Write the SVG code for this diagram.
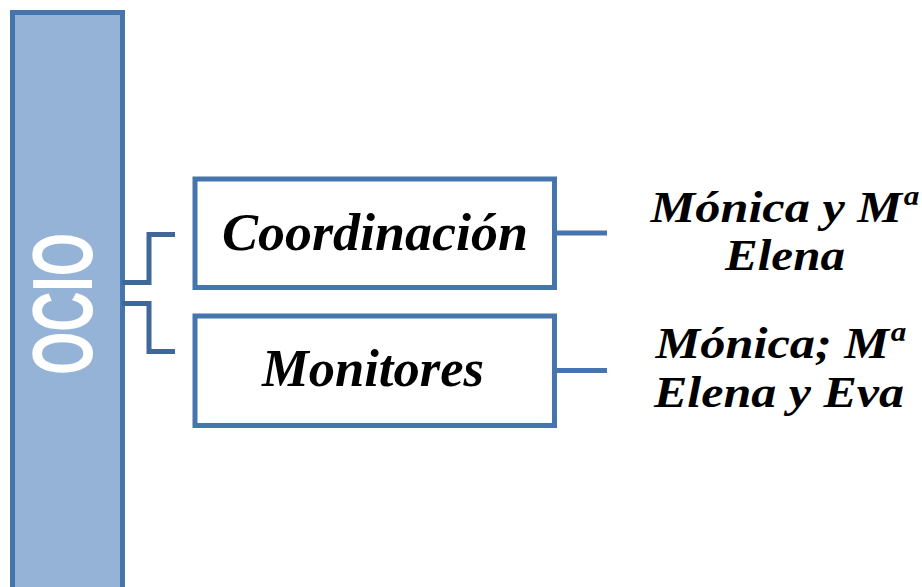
<svg xmlns="http://www.w3.org/2000/svg" width="922" height="587" viewBox="0 0 922 587">
<style>
.box{fill:#ffffff;stroke:#4674ad;stroke-width:5}
.bar{fill:#95b3d7;stroke:#4674ad;stroke-width:5}
.conn{fill:none;stroke:#3f6797;stroke-width:5}
.conn2{fill:none;stroke:#4674ad;stroke-width:5}
.lbl{font-family:"Liberation Serif",serif;font-weight:bold;font-style:italic;fill:#000000}
.ocio{font-family:"Liberation Sans",sans-serif;font-weight:bold;fill:#ffffff}
</style>
<rect width="922" height="587" fill="#ffffff"/>
<g id="ocio">
<rect class="bar" x="12.5" y="12.5" width="110" height="600"/>
<text class="ocio" transform="translate(92,304) rotate(-90)" text-anchor="middle" font-size="86" textLength="142" lengthAdjust="spacingAndGlyphs">OCIO</text>
</g>
<g id="connectors">
<polyline class="conn" points="122,282.5 149,282.5 149,234.5 175,234.5"/>
<polyline class="conn" points="122,303.5 149,303.5 149,351.5 175,351.5"/>
<line class="conn2" x1="556" y1="233" x2="607" y2="233"/>
<line class="conn2" x1="556" y1="370.5" x2="607" y2="370.5"/>
</g>
<g id="coordinacion">
<rect class="box" x="195" y="179" width="359.5" height="108.5"/>
<text class="lbl" x="375" y="250" text-anchor="middle" font-size="52" textLength="306" lengthAdjust="spacingAndGlyphs">Coordinación</text>
</g>
<g id="monitores">
<rect class="box" x="195" y="316" width="359.5" height="109.5"/>
<text class="lbl" x="373" y="386" text-anchor="middle" font-size="52" textLength="222" lengthAdjust="spacingAndGlyphs">Monitores</text>
</g>
<g id="coord-names">
<text class="lbl" x="783" y="222" text-anchor="middle" font-size="44" textLength="265" lengthAdjust="spacingAndGlyphs">Mónica y Mª</text>
<text class="lbl" x="785" y="270" text-anchor="middle" font-size="44" textLength="120" lengthAdjust="spacingAndGlyphs">Elena</text>
</g>
<g id="monitores-names">
<text class="lbl" x="779" y="358" text-anchor="middle" font-size="44" textLength="247" lengthAdjust="spacingAndGlyphs">Mónica; Mª</text>
<text class="lbl" x="779" y="407" text-anchor="middle" font-size="44" textLength="250" lengthAdjust="spacingAndGlyphs">Elena y Eva</text>
</g>
</svg>
